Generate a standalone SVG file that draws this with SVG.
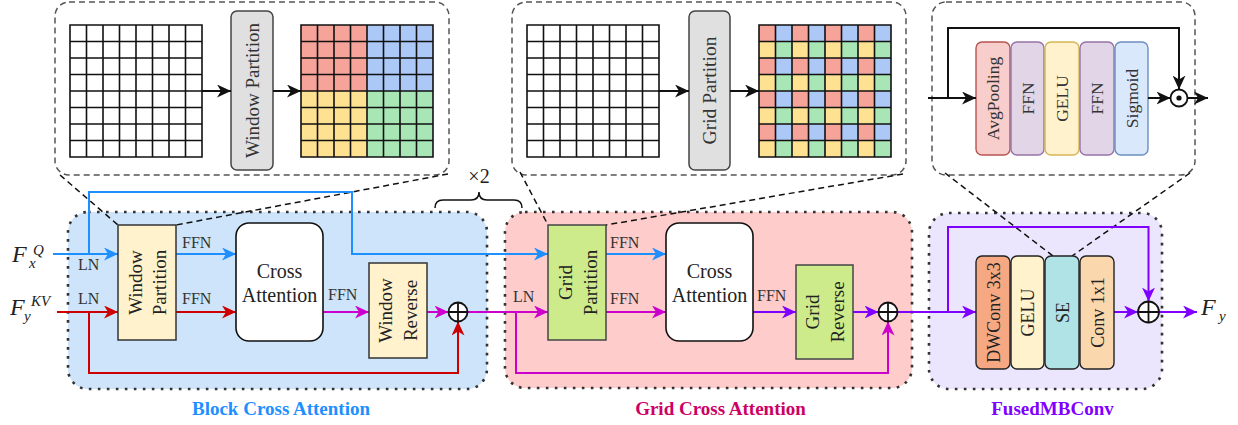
<svg xmlns="http://www.w3.org/2000/svg" width="1238" height="425" viewBox="0 0 1238 425">
<style>
text { font-family: "Liberation Serif", "DejaVu Serif", serif; fill: #222; }
.inset { fill: none; stroke: #555; stroke-width: 1.5; stroke-dasharray: 6 4; }
.lead { fill: none; stroke: #111; stroke-width: 1.5; stroke-dasharray: 6 4; }
.grid { fill: none; stroke: #111; stroke-width: 1.6; }
.ibox { fill: #e0e0e0; stroke: #444; stroke-width: 1.5; }
.region { stroke: #333; stroke-width: 2.6; stroke-dasharray: 2.6 6.4; }
.yb { fill: #fff2cc; stroke: #333; stroke-width: 1.5; }
.gb { fill: #cdeb8b; stroke: #444; stroke-width: 1.5; }
.ca { fill: #fff; stroke: #111; stroke-width: 1.6; }
.fb { stroke: #222; stroke-width: 1.4; }
.lbl { font-size: 16px; fill: #333; }
.rt { font-size: 19px; text-anchor: middle; dominant-baseline: central; }
.it { font-size: 17.5px; text-anchor: middle; dominant-baseline: central; fill: #333; }
.ft { font-size: 18px; text-anchor: middle; dominant-baseline: central; }
.title { font-size: 19px; font-weight: bold; text-anchor: middle; }
.c { fill: none; stroke-width: 2; }
.blue { stroke: #1e8fff; }
.red { stroke: #cc0000; }
.mag { stroke: #cc00cc; }
.pur { stroke: #7f00ff; }
.blk { stroke: #111; }
.op { fill: #fff; stroke: #111; stroke-width: 1.8; }
.opl { fill: none; stroke: #111; stroke-width: 1.8; }
</style>
<defs>
<marker id="mb" viewBox="0 0 14 13" refX="14" refY="6.5" markerWidth="14" markerHeight="13" markerUnits="userSpaceOnUse" orient="auto"><path d="M0,0 L14,6.5 L0,13 L4,6.5 Z" fill="#1e8fff"/></marker>
<marker id="mr" viewBox="0 0 14 13" refX="14" refY="6.5" markerWidth="14" markerHeight="13" markerUnits="userSpaceOnUse" orient="auto"><path d="M0,0 L14,6.5 L0,13 L4,6.5 Z" fill="#cc0000"/></marker>
<marker id="mm" viewBox="0 0 14 13" refX="14" refY="6.5" markerWidth="14" markerHeight="13" markerUnits="userSpaceOnUse" orient="auto"><path d="M0,0 L14,6.5 L0,13 L4,6.5 Z" fill="#cc00cc"/></marker>
<marker id="mp" viewBox="0 0 14 13" refX="14" refY="6.5" markerWidth="14" markerHeight="13" markerUnits="userSpaceOnUse" orient="auto"><path d="M0,0 L14,6.5 L0,13 L4,6.5 Z" fill="#7f00ff"/></marker>
<marker id="mk" viewBox="0 0 14 13" refX="14" refY="6.5" markerWidth="14" markerHeight="13" markerUnits="userSpaceOnUse" orient="auto"><path d="M0,0 L14,6.5 L0,13 L4,6.5 Z" fill="#111"/></marker>
<g id="gl"><path class="grid" d="M0,0H132V132H0Z M16.5,0V132 M33,0V132 M49.5,0V132 M66,0V132 M82.5,0V132 M99,0V132 M115.5,0V132 M0,16.5H132 M0,33H132 M0,49.5H132 M0,66H132 M0,82.5H132 M0,99H132 M0,115.5H132"/></g>
<pattern id="chk" patternUnits="userSpaceOnUse" x="759" y="25" width="33" height="33">
<rect width="16.5" height="16.5" fill="#f6a39a"/><rect x="16.5" width="16.5" height="16.5" fill="#abc8f7"/>
<rect y="16.5" width="16.5" height="16.5" fill="#fee292"/><rect x="16.5" y="16.5" width="16.5" height="16.5" fill="#a8e6b5"/>
</pattern>
</defs>

<!-- regions -->
<g id="region-block">
<rect class="region" x="68" y="212" width="419" height="177" rx="20" fill="#cde4fa"/>
<text class="title" x="281" y="415" style="fill:#1e8fff">Block Cross Attention</text>
</g>
<g id="region-grid">
<rect class="region" x="505" y="212" width="407" height="176" rx="20" fill="#ffcccc"/>
<text class="title" x="720.5" y="415" style="fill:#cc0066">Grid Cross Attention</text>
</g>
<g id="region-fused">
<rect class="region" x="929" y="213" width="233" height="176" rx="20" fill="#ebe6fd"/>
<text class="title" x="1052.5" y="415" style="fill:#7f00ff">FusedMBConv</text>
</g>

<!-- insets -->
<g id="inset-window">
<rect class="inset" x="55" y="2" width="394" height="173" rx="14"/>
<use href="#gl" x="70" y="25"/>
<rect class="ibox" x="231" y="11" width="42" height="159" rx="6"/>
<text class="it" transform="translate(252,90.5) rotate(-90)" style="font-size:19px">Window Partition</text>
<rect x="301" y="25" width="66" height="66" fill="#f6a39a"/>
<rect x="367" y="25" width="66" height="66" fill="#abc8f7"/>
<rect x="301" y="91" width="66" height="66" fill="#fee292"/>
<rect x="367" y="91" width="66" height="66" fill="#a8e6b5"/>
<use href="#gl" x="301" y="25"/>
<path class="c blk" d="M202,91H231" marker-end="url(#mk)"/>
<path class="c blk" d="M273,91H301" marker-end="url(#mk)"/>
</g>
<g id="inset-grid">
<rect class="inset" x="512" y="2" width="394" height="173" rx="14"/>
<use href="#gl" x="527" y="25"/>
<rect class="ibox" x="689" y="11" width="41" height="159" rx="6"/>
<text class="it" transform="translate(709.5,90.5) rotate(-90)" style="font-size:19.5px">Grid Partition</text>
<rect x="759" y="25" width="132" height="132" fill="url(#chk)"/>
<use href="#gl" x="759" y="25"/>
<path class="c blk" d="M658,91H689" marker-end="url(#mk)"/>
<path class="c blk" d="M730,91H759" marker-end="url(#mk)"/>
</g>
<g id="inset-se">
<rect class="inset" x="932" y="2" width="263" height="173" rx="14"/>
<rect x="976" y="42" width="34" height="113" rx="6" fill="#f8cecc" stroke="#b85450" stroke-width="1.4"/>
<rect x="1011" y="42" width="33" height="113" rx="6" fill="#e1d5e7" stroke="#9673a6" stroke-width="1.4"/>
<rect x="1045" y="42" width="34" height="113" rx="6" fill="#fff2cc" stroke="#d6b656" stroke-width="1.4"/>
<rect x="1080" y="42" width="34" height="113" rx="6" fill="#e1d5e7" stroke="#9673a6" stroke-width="1.4"/>
<rect x="1115" y="42" width="33" height="113" rx="6" fill="#dae8fc" stroke="#6c8ebf" stroke-width="1.4"/>
<text class="it" transform="translate(993,98.5) rotate(-90)">AvgPooling</text>
<text class="it" transform="translate(1027.5,98.5) rotate(-90)">FFN</text>
<text class="it" transform="translate(1062,98.5) rotate(-90)">GELU</text>
<text class="it" transform="translate(1097,98.5) rotate(-90)">FFN</text>
<text class="it" transform="translate(1131.5,98.5) rotate(-90)">Sigmoid</text>
<path class="c blk" d="M928,98H976" marker-end="url(#mk)"/>
<path class="c blk" d="M948,98V28H1179V89.5" marker-end="url(#mk)"/>
<path class="c blk" d="M1148,98H1170.5" marker-end="url(#mk)"/>
<path class="c blk" d="M1187.5,98H1208" marker-end="url(#mk)"/>
<circle class="op" cx="1179" cy="98" r="8.5"/>
<circle cx="1179" cy="98" r="2.6" fill="#111"/>
</g>

<!-- ×2 brace -->
<g id="repeat">
<path d="M435,208 Q435,200 443,200 L471,200 Q479,200 479,192 Q479,200 487,200 L514,200 Q522,200 522,208" fill="none" stroke="#111" stroke-width="1.5"/>
<text x="479" y="183" text-anchor="middle" font-size="20">×2</text>
</g>

<!-- connectors -->
<g id="connectors">
<path class="lead" d="M60,175L118,225"/>
<path class="lead" d="M448,174L176,225"/>
<path class="lead" d="M520,172L548,225"/>
<path class="lead" d="M903,174L606,225"/>
<path class="lead" d="M945,173L1053,256"/>
<path class="lead" d="M1190,173L1072,256"/>

<path class="c blue" d="M53,254H118" marker-end="url(#mb)"/>
<path class="c blue" d="M89,254V192H352V254H548" marker-end="url(#mb)"/>
<path class="c red" d="M57,312H118" marker-end="url(#mr)"/>
<path class="c red" d="M89,312V373H458V321.5" marker-end="url(#mr)"/>
<path class="c blue" d="M176,254H236" marker-end="url(#mb)"/>
<path class="c red" d="M176,312H236" marker-end="url(#mr)"/>
<path class="c mag" d="M323,312H369" marker-end="url(#mm)"/>
<path class="c mag" d="M427,312H448.5" marker-end="url(#mm)"/>
<path class="c mag" d="M467.5,312H548" marker-end="url(#mm)"/>
<path class="c mag" d="M516,312V373H888V321.5" marker-end="url(#mm)"/>
<path class="c blue" d="M606,254H666" marker-end="url(#mb)"/>
<path class="c mag" d="M606,312H666" marker-end="url(#mm)"/>
<path class="c pur" d="M753,312H796" marker-end="url(#mp)"/>
<path class="c pur" d="M853,312H878.5" marker-end="url(#mp)"/>
<path class="c pur" d="M897.5,312H976" marker-end="url(#mp)"/>
<path class="c pur" d="M948,312V227H1148.5V301.5" marker-end="url(#mp)"/>
<path class="c pur" d="M1114,312H1138" marker-end="url(#mp)"/>
<path class="c pur" d="M1159,312H1197" marker-end="url(#mp)"/>

<text class="lbl" x="78" y="270">LN</text>
<text class="lbl" x="78" y="304">LN</text>
<text class="lbl" x="182" y="248">FFN</text>
<text class="lbl" x="182" y="304">FFN</text>
<text class="lbl" x="328" y="300">FFN</text>
<text class="lbl" x="513" y="302">LN</text>
<text class="lbl" x="610" y="248">FFN</text>
<text class="lbl" x="610" y="304">FFN</text>
<text class="lbl" x="757" y="301">FFN</text>
</g>

<!-- input/output labels -->
<g id="in-q">
<text x="12" y="262" font-size="24" font-style="italic">F</text>
<text x="29" y="268" font-size="15" font-style="italic">x</text>
<text x="33" y="255" font-size="15" font-style="italic">Q</text>
</g>
<g id="in-kv">
<text x="10" y="315" font-size="24" font-style="italic">F</text>
<text x="24" y="321" font-size="15" font-style="italic">y</text>
<text x="31" y="306" font-size="15" font-style="italic">KV</text>
</g>
<g id="out-y">
<text x="1201" y="315" font-size="24" font-style="italic">F</text>
<text x="1219" y="321" font-size="15" font-style="italic">y</text>
</g>

<!-- block nodes -->
<g id="window-partition">
<rect class="yb" x="118" y="225" width="58" height="115"/>
<text class="rt" transform="translate(135,282.5) rotate(-90)">Window</text>
<text class="rt" transform="translate(159.5,282.5) rotate(-90)">Partition</text>
</g>
<g id="cross-attention-1">
<rect class="ca" x="236" y="223" width="87" height="118" rx="13"/>
<text x="279.5" y="278" font-size="20" text-anchor="middle">Cross</text>
<text x="279.5" y="302" font-size="20" text-anchor="middle">Attention</text>
</g>
<g id="window-reverse">
<rect class="yb" x="369" y="263" width="58" height="95"/>
<text class="rt" transform="translate(385,310.5) rotate(-90)">Window</text>
<text class="rt" transform="translate(410.5,310.5) rotate(-90)">Reverse</text>
</g>
<g id="add-1">
<circle class="op" cx="458" cy="312" r="9.5"/>
<path class="opl" d="M448.5,312H467.5M458,302.5V321.5"/>
</g>

<!-- grid nodes -->
<g id="grid-partition">
<rect class="gb" x="548" y="225" width="58" height="115"/>
<text class="rt" transform="translate(565.5,282.5) rotate(-90)">Grid</text>
<text class="rt" transform="translate(590,282.5) rotate(-90)">Partition</text>
</g>
<g id="cross-attention-2">
<rect class="ca" x="666" y="223" width="87" height="118" rx="13"/>
<text x="709.5" y="278" font-size="20" text-anchor="middle">Cross</text>
<text x="709.5" y="302" font-size="20" text-anchor="middle">Attention</text>
</g>
<g id="grid-reverse">
<rect class="gb" x="796" y="265" width="57" height="94"/>
<text class="rt" transform="translate(812,312) rotate(-90)">Grid</text>
<text class="rt" transform="translate(837,312) rotate(-90)">Reverse</text>
</g>
<g id="add-2">
<circle class="op" cx="888" cy="312" r="9.5"/>
<path class="opl" d="M878.5,312H897.5M888,302.5V321.5"/>
</g>

<!-- fused nodes -->
<g id="dwconv">
<rect class="fb" x="976" y="256" width="34" height="113" rx="6" fill="#f5a882"/>
<text class="ft" transform="translate(994,312.5) rotate(-90)">DWConv 3x3</text>
</g>
<g id="gelu">
<rect class="fb" x="1011" y="256" width="33" height="113" rx="6" fill="#fff2cc"/>
<text class="ft" transform="translate(1028,312.5) rotate(-90)">GELU</text>
</g>
<g id="se">
<rect class="fb" x="1045" y="256" width="34" height="113" rx="6" fill="#b0e3e6"/>
<text class="ft" transform="translate(1062.5,312.5) rotate(-90)">SE</text>
</g>
<g id="conv1x1">
<rect class="fb" x="1080" y="256" width="34" height="113" rx="6" fill="#fad7ac"/>
<text class="ft" transform="translate(1097.5,312.5) rotate(-90)">Conv 1x1</text>
</g>
<g id="add-3">
<circle class="op" cx="1148.5" cy="312" r="10.5"/>
<path class="opl" d="M1138,312H1159M1148.5,301.5V322.5"/>
</g>
</svg>
